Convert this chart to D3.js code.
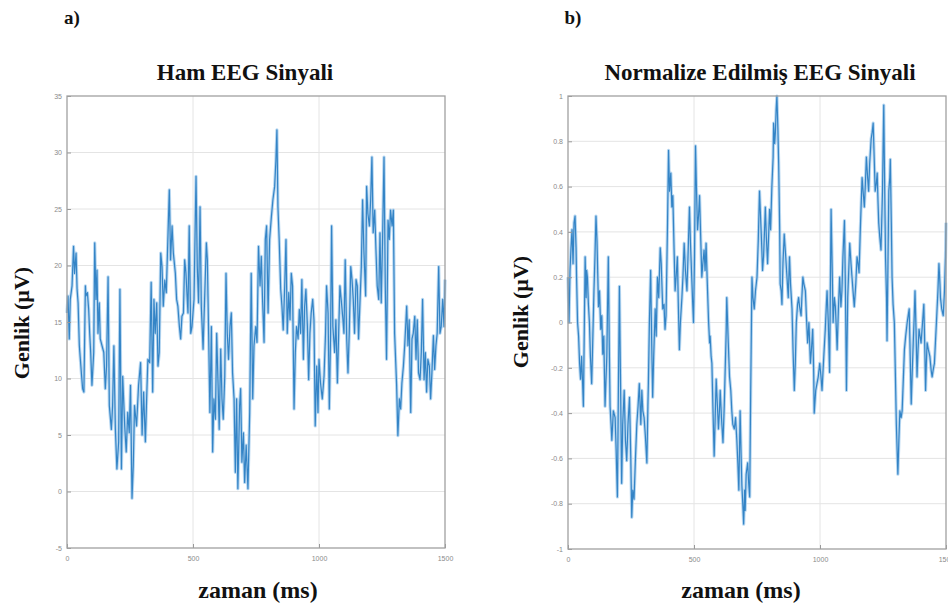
<!DOCTYPE html>
<html>
<head>
<meta charset="utf-8">
<script src="https://cdn.jsdelivr.net/npm/d3@7"></script>
<style>
  body { margin: 0; background: #fff; }
  svg { display: block; }
</style>
</head>
<body>
<svg id="chart" width="948" height="610"></svg>
<script>
// raw EEG (µV), sample times in ms
const rawTime = [0,4,9,13,20,26,30,36,40,44,49,57,62,67,73,75,81,86,90,94,99,106,110,115,119,123,128,132,139,146,152,157,163,168,176,181,186,192,198,205,210,216,221,229,235,241,247,252,258,263,268,276,284,292,298,304,311,316,321,328,334,340,345,350,356,361,366,372,377,382,388,394,401,406,411,417,422,430,435,440,446,451,456,462,467,472,480,485,491,496,
  500,504,512,517,522,528,533,540,546,553,557,562,567,573,578,583,589,594,599,604,610,615,620,626,631,636,641,647,652,657,663,668,673,678,685,689,694,700,705,711,718,725,731,737,742,749,754,760,766,771,776,782,787,792,798,804,811,817,824,829,833,837,842,848,853,858,864,869,874,880,885,890,895,901,906,911,917,922,927,932,938,943,948,954,959,964,969,975,980,985,991,
  996,1000,1006,1013,1020,1026,1030,1036,1041,1046,1050,1055,1062,1067,1073,1078,1083,1088,1094,1099,1104,1110,1115,1120,1126,1131,1136,1141,1147,1152,1157,1163,1168,1173,1178,1185,1189,1194,1200,1205,1210,1215,1221,1226,1231,1237,1242,1247,1252,1258,1263,1268,1274,1279,1284,1290,1295,1300,1308,1313,1319,1324,1329,1335,1340,1348,1353,1358,1364,1369,1374,1380,1385,1390,1395,1401,1406,1411,1417,1422,1427,1432,1438,1443,1448,1454,1459,1464,1469,1475,1480,1485,1491,1496,1500];
const rawValue = [15.8,17.3,13.5,17.0,18.2,21.7,19.3,21.1,17.9,16.7,12.9,10.5,9.1,8.8,18.2,17.3,17.6,16.1,14.0,12.3,9.4,12.3,22.0,17.0,19.6,14.0,16.7,13.5,12.9,12.3,9.1,11.1,19.0,7.6,5.5,7.6,12.9,5.5,2.0,4.4,17.9,2.0,10.2,5.8,3.5,7.0,5.2,9.4,-0.6,2.3,7.6,5.8,9.4,11.4,5.0,8.8,4.4,8.2,11.7,11.4,18.5,8.8,17.0,14.0,16.7,11.1,12.3,21.1,19.9,16.4,18.7,17.6,22.9,26.7,20.5,23.5,21.1,19.3,17.0,16.4,14.6,13.5,15.5,15.8,20.5,19.3,15.8,23.5,14.0,14.6,
  15.8,17.0,27.9,19.9,16.7,25.2,16.4,12.6,17.0,22.0,20.5,14.0,7.0,14.6,3.5,8.2,6.4,14.0,9.9,5.5,12.6,8.2,6.4,10.2,19.3,14.0,11.7,14.6,15.8,10.5,8.2,1.7,8.2,0.25,7.6,9.1,2.6,5.2,0.8,4.1,0.25,7.0,19.3,8.2,12.9,14.6,13.2,21.7,18.2,20.8,17.0,13.2,22.3,23.5,15.8,22.3,24.3,25.8,27.0,29.3,32.0,25.2,22.3,17.9,16.4,14.3,18.2,22.3,14.0,17.6,15.2,19.3,18.2,7.3,12.3,14.6,13.5,16.1,14.0,18.75,11.7,16.4,17.9,14.6,9.9,14.0,15.8,17.0,15.2,5.8,11.1,
  7.0,11.7,9.6,8.2,10.2,14.0,18.2,15.8,7.3,14.0,23.5,14.6,12.3,15.2,9.6,14.0,18.2,17.0,15.5,14.0,20.5,13.5,10.5,14.0,19.9,18.75,17.0,14.0,18.75,18.2,13.5,17.0,19.9,25.8,21.4,17.3,27.0,24.6,23.5,25.8,29.6,22.9,24.9,21.4,18.2,17.0,22.9,16.7,22.0,29.6,18.2,11.7,24.0,22.3,24.9,23.5,24.9,14.0,9.4,4.95,8.2,7.3,9.6,11.1,12.9,16.4,12.9,15.2,7.0,13.5,14.0,15.5,11.7,15.2,10.5,9.9,12.3,17.0,9.9,12.3,8.8,11.7,11.1,8.2,10.5,13.8,10.8,12.9,14.0,19.9,14.0,14.6,17.0,14.6,18.75];

// normalised EEG
const normTime = [0,4,8,12,16,20,24,28,32,34,
  38,42,46,50,54,58,61,65,68,72,
  74,77,81,85,89,94,98,103,107,111,
  115,121,125,130,134,138,142,147,154,160,
  164,167,171,174,180,187,191,196,200,204,
  208,213,217,223,228,233,238,244,249,253,
  257,262,268,273,278,283,289,293,297,302,
  307,313,317,319,323,328,332,336,340,346,
  350,355,360,366,370,372,376,381,385,389,
  395,399,403,408,412,416,421,425,429,434,
  438,442,446,452,456,461,466,472,477,482,
  486,491,495,498,502,506,510,514,518,522,
  527,531,535,540,544,548,552,558,562,564,
  568,571,575,580,584,588,593,597,601,604,
  609,615,620,624,628,630,636,641,646,650,
  654,660,665,670,674,678,683,687,690,694,
  697,701,703,707,713,717,721,725,730,734,
  739,744,750,755,760,764,768,772,776,780,
  783,787,792,796,800,804,809,814,816,820,
  823,826,829,833,836,840,842,846,849,853,
  858,864,869,874,879,883,889,893,898,902,
  906,911,915,919,925,928,932,936,942,946,
  951,956,962,966,971,975,977,983,988,993,
  999,1004,1008,1015,1021,1025,1028,1033,1038,1041,
  1044,1048,1052,1057,1061,1065,1068,1073,1078,1083,
  1087,1091,1097,1101,1105,1107,1110,1114,1118,1123,
  1127,1131,1136,1142,1147,1151,1155,1160,1167,1171,
  1176,1180,1184,1189,1193,1197,1203,1207,1211,1215,
  1219,1223,1227,1230,1233,1237,1242,1248,1253,1256,
  1260,1264,1266,1270,1273,1277,1279,1283,1286,1290,
  1295,1299,1303,1306,1309,1313,1317,1322,1326,1330,
  1335,1340,1346,1350,1354,1358,1362,1366,1370,1374,
  1377,1381,1385,1389,1393,1397,1401,1407,1412,1416,
  1419,1422,1425,1430,1436,1441,1445,1449,1454,1458,
  1462,1468,1472,1476,1478,1483,1489,1494,1498,1500];
const normValue = [0.20,0.00,0.23,0.33,0.41,0.26,0.44,0.47,0.33,0.20,
  0.00,-0.06,-0.18,-0.25,-0.15,-0.27,-0.37,0.00,0.29,0.11,
  0.23,0.20,0.08,0.00,-0.15,-0.27,-0.09,0.14,0.29,0.47,
  0.36,0.07,0.14,-0.03,0.03,-0.14,-0.06,-0.37,-0.15,0.29,
  -0.12,-0.37,-0.45,-0.52,-0.39,-0.42,-0.56,-0.77,-0.30,0.16,
  -0.22,-0.71,-0.45,-0.30,-0.52,-0.61,-0.45,-0.33,-0.59,-0.86,
  -0.74,-0.78,-0.59,-0.45,-0.37,-0.27,-0.45,-0.30,-0.39,-0.42,
  -0.50,-0.62,-0.37,-0.27,0.00,0.23,-0.08,-0.33,-0.15,0.06,
  -0.06,0.20,0.11,0.33,0.26,0.19,0.06,0.08,-0.03,0.03,
  0.44,0.76,0.58,0.66,0.51,0.56,0.32,0.14,0.20,0.29,
  0.07,-0.12,0.00,0.11,0.20,0.35,0.23,0.14,0.32,0.51,
  0.35,0.20,0.08,0.00,0.29,0.78,0.58,0.41,0.47,0.56,
  0.36,0.20,0.26,0.32,0.23,0.35,0.20,0.00,-0.09,-0.06,
  -0.15,-0.18,-0.37,-0.59,-0.42,-0.25,-0.37,-0.47,-0.39,-0.30,
  -0.42,-0.53,-0.37,-0.20,-0.03,0.11,-0.09,-0.24,-0.30,-0.39,
  -0.45,-0.47,-0.42,-0.52,-0.62,-0.74,-0.39,-0.59,-0.72,-0.81,
  -0.89,-0.74,-0.83,-0.67,-0.62,-0.71,-0.77,-0.30,0.20,0.11,
  0.06,0.14,0.20,0.36,0.58,0.47,0.36,0.23,0.29,0.41,
  0.51,0.38,0.26,0.38,0.50,0.41,0.60,0.73,0.88,0.79,
  0.84,0.94,1.00,0.85,0.70,0.41,0.17,0.14,0.08,0.26,
  0.39,0.29,0.20,0.11,0.29,0.17,0.06,-0.12,-0.30,-0.18,
  0.00,0.08,0.11,0.07,0.03,0.11,0.20,0.17,0.14,0.03,
  -0.09,0.00,-0.18,-0.12,-0.03,-0.22,-0.40,-0.30,-0.27,-0.24,
  -0.18,-0.24,-0.30,-0.15,-0.03,0.07,0.14,0.00,-0.22,0.14,
  0.50,0.26,0.00,0.11,0.07,-0.03,-0.12,0.06,0.20,0.07,
  0.14,0.29,0.45,0.14,-0.30,-0.12,0.11,0.23,0.35,0.26,
  0.20,0.14,0.07,0.17,0.29,0.26,0.22,0.41,0.64,0.58,
  0.51,0.61,0.73,0.64,0.58,0.70,0.81,0.84,0.88,0.73,
  0.58,0.61,0.66,0.54,0.44,0.38,0.32,0.58,0.96,0.66,
  0.29,0.11,-0.08,0.29,0.58,0.64,0.72,0.44,0.20,0.08,
  0.00,-0.22,-0.45,-0.56,-0.67,-0.52,-0.39,-0.42,-0.39,-0.27,
  -0.12,-0.06,0.00,0.03,0.06,-0.15,-0.36,-0.22,-0.09,0.03,
  0.14,-0.03,-0.24,-0.12,-0.03,-0.06,-0.09,0.00,0.08,-0.12,
  -0.30,-0.18,-0.09,-0.12,-0.15,-0.21,-0.24,-0.21,-0.18,-0.09,
  0.00,0.14,0.26,0.17,0.11,0.06,0.03,0.14,0.29,0.44];

const xTicks = [0, 500, 1000, 1500];
const rawTicks = [-5, 0, 5, 10, 15, 20, 25, 30, 35];
const normTicks = [-1, -0.8, -0.6, -0.4, -0.2, 0, 0.2, 0.4, 0.6, 0.8, 1];

const panels = [
  {tag: 'a)', title: 'Ham EEG Sinyali', time: rawTime, value: rawValue, ticks: rawTicks,
   domain: [-5, 35], left: 67, right: 445, top: 96, bottom: 548,
   tagX: 72, titleX: 245, xlabX: 258, ylabX: 22, ylabY: 323},
  {tag: 'b)', title: 'Normalize Edilmiş EEG Sinyali', time: normTime, value: normValue, ticks: normTicks,
   domain: [-1, 1], left: 568, right: 946, top: 96, bottom: 549,
   tagX: 573, titleX: 760, xlabX: 741, ylabX: 521, ylabY: 312}
];

const svg = d3.select('#chart');
const serif = '"Liberation Serif", "DejaVu Serif", serif';
const fmt = d => String(+d.toFixed(1));

panels.forEach(p => {
  const x = d3.scaleLinear().domain([0, 1500]).range([p.left, p.right]);
  const y = d3.scaleLinear().domain(p.domain).range([p.bottom, p.top]);
  const g = svg.append('g');

  // grid
  g.append('g').selectAll('line').data(xTicks.slice(1, -1)).join('line')
    .attr('x1', d => x(d)).attr('x2', d => x(d))
    .attr('y1', p.top).attr('y2', p.bottom)
    .attr('stroke', '#e4e4e4').attr('stroke-width', 1);
  g.append('g').selectAll('line').data(p.ticks.slice(1, -1)).join('line')
    .attr('x1', p.left).attr('x2', p.right)
    .attr('y1', d => y(d)).attr('y2', d => y(d))
    .attr('stroke', '#e4e4e4').attr('stroke-width', 1);

  // signal: soft halo + core, like the blurry scan
  const pts = p.time.map((t, i) => [t, p.value[i]]);
  const line = d3.line().x(d => x(d[0])).y(d => y(d[1]));
  g.append('path').datum(pts).attr('d', line)
    .attr('fill', 'none').attr('stroke', '#9fcaec').attr('stroke-width', 3.2)
    .attr('stroke-linejoin', 'round').attr('opacity', 0.75);
  g.append('path').datum(pts).attr('d', line)
    .attr('fill', 'none').attr('stroke', '#3484c6').attr('stroke-width', 1.2)
    .attr('stroke-linejoin', 'round');

  // axes
  const ax = g.append('g').attr('transform', `translate(0,${p.bottom})`)
    .call(d3.axisBottom(x).tickValues(xTicks).tickSize(-4).tickPadding(8).tickFormat(d3.format('d')));
  const ay = g.append('g').attr('transform', `translate(${p.left},0)`)
    .call(d3.axisLeft(y).tickValues(p.ticks).tickSize(-4).tickPadding(5).tickFormat(fmt));
  [ax, ay].forEach(a => {
    a.select('.domain').remove();
    a.selectAll('line').attr('stroke', '#999');
    a.selectAll('text').attr('fill', '#8a8a8a').style('font-size', '7px')
      .style('font-family', '"Liberation Sans", Arial, sans-serif');
  });

  // box
  g.append('rect').attr('x', p.left).attr('y', p.top)
    .attr('width', p.right - p.left).attr('height', p.bottom - p.top)
    .attr('fill', 'none').attr('stroke', '#a0a0a0').attr('stroke-width', 1.3);

  // texts
  g.append('text').attr('x', p.tagX).attr('y', 24).attr('text-anchor', 'middle')
    .style('font', `bold 19px ${serif}`).attr('fill', '#111').text(p.tag);
  g.append('text').attr('x', p.titleX).attr('y', 80).attr('text-anchor', 'middle')
    .style('font', `bold 23px ${serif}`).attr('fill', '#111').text(p.title);
  g.append('text').attr('x', p.xlabX).attr('y', 598).attr('text-anchor', 'middle')
    .style('font', `bold 24px ${serif}`).attr('fill', '#111').text('zaman (ms)');
  g.append('text').attr('transform', `translate(${p.ylabX + 7},${p.ylabY}) rotate(-90)`)
    .attr('text-anchor', 'middle')
    .style('font', `bold 22px ${serif}`).attr('fill', '#111').text('Genlik (µV)');
});
</script>
</body>
</html>
